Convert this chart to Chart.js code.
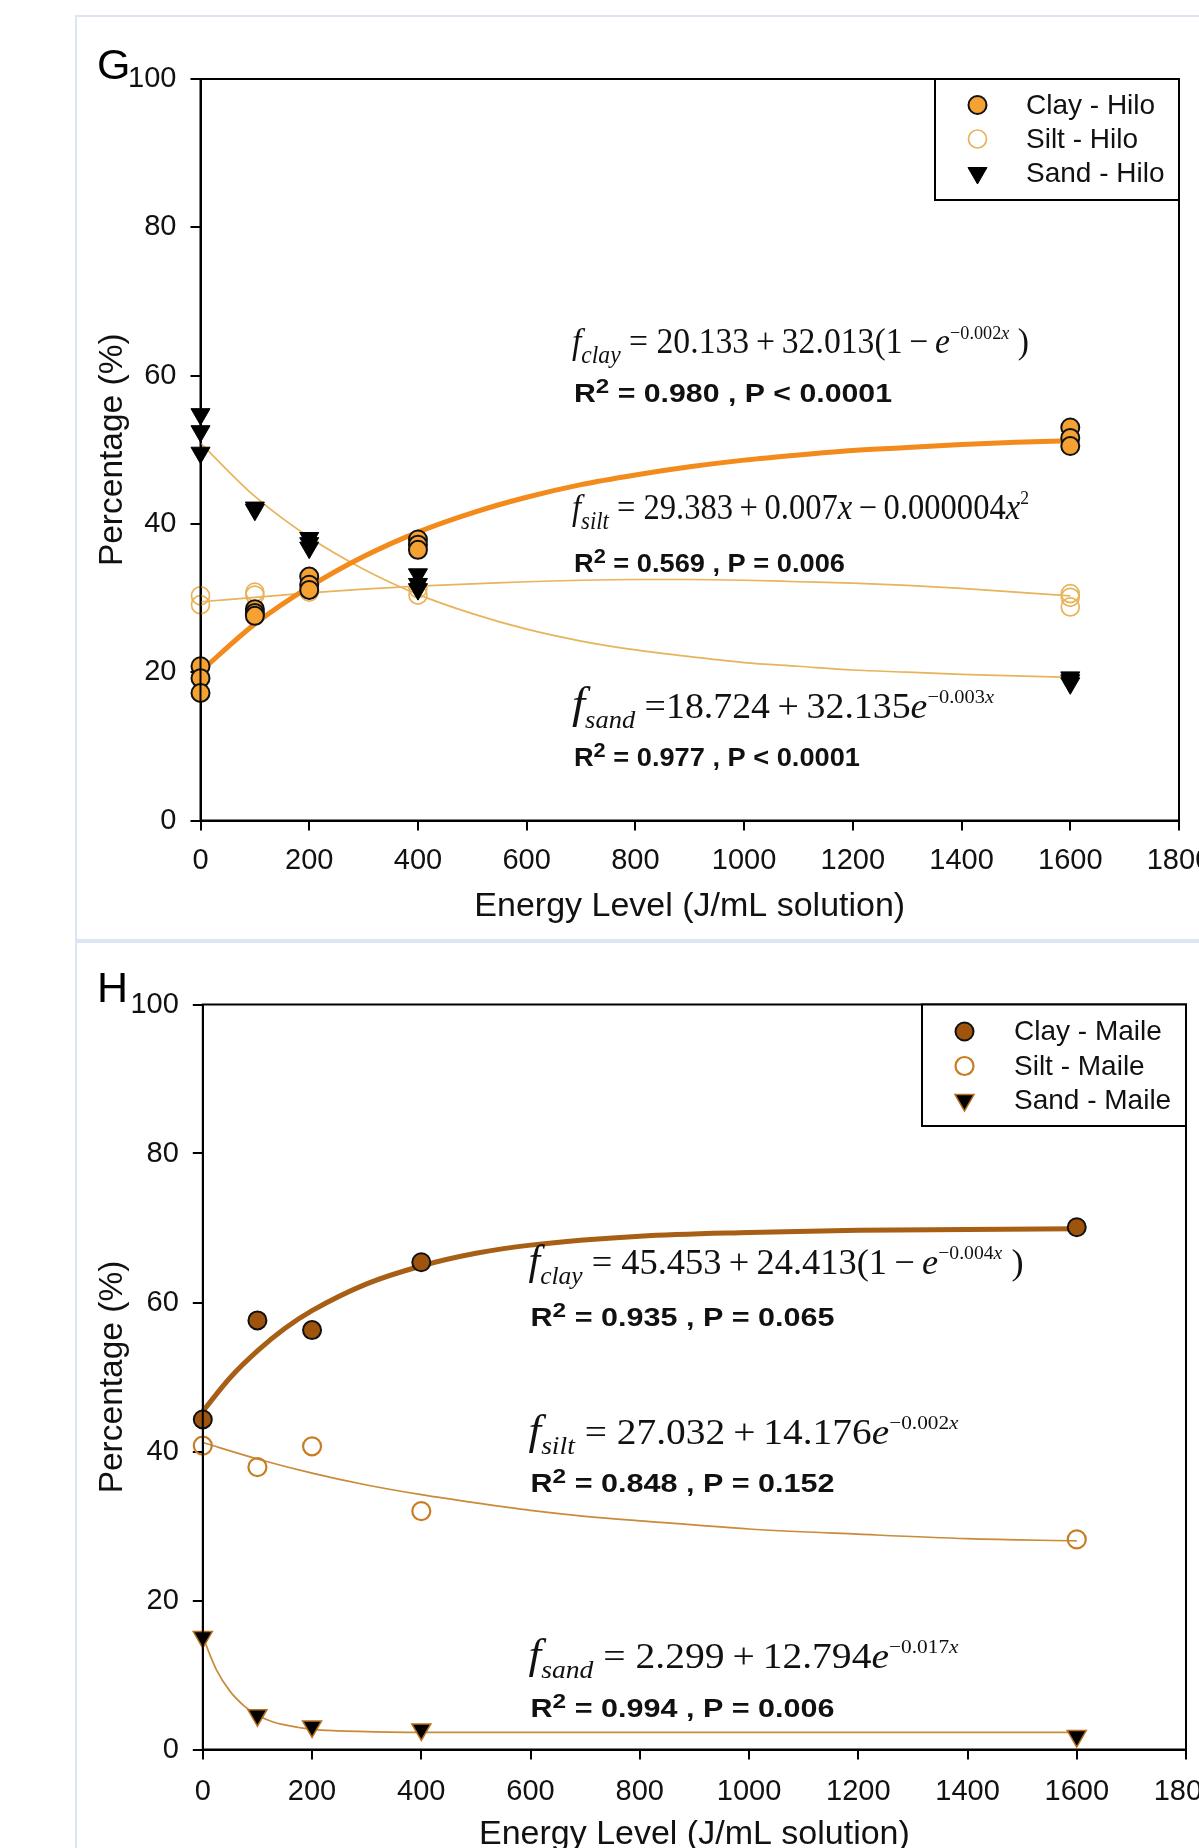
<!DOCTYPE html>
<html><head><meta charset="utf-8">
<script src="https://cdn.jsdelivr.net/npm/chart.js@4.4.1/dist/chart.umd.min.js"></script>
<style>
html,body{margin:0;padding:0;background:#fff;overflow:hidden;width:1199px;height:1848px;}
#wrap{position:relative;width:1199px;height:1848px;overflow:hidden;background:#fff;}
.panel{position:absolute;border:2px solid #dce5f4;box-sizing:border-box;}
canvas{position:absolute;left:0;}
</style></head><body>
<div id="wrap">
<div class="panel" style="left:75px;top:15px;width:1200px;height:926px;"></div>
<div class="panel" style="left:75px;top:941px;width:1200px;height:1000px;"></div>
<canvas id="g" width="1260" height="941" style="top:0px"></canvas>
<canvas id="h" width="1260" height="980" style="top:941px"></canvas>
</div>
<script>
// ---------- tick labels ----------
const xTickValues = [0, 200, 400, 600, 800, 1000, 1200, 1400, 1600, 1800];
const yTickValues = [0, 20, 40, 60, 80, 100];

// ---------- Panel G : Hilo observations ----------
const hiloClayX = [0, 0, 0, 100, 100, 100, 200, 200, 200, 400, 400, 400, 1600, 1600, 1600];
const hiloClayY = [20.8, 19.2, 17.2, 28.5, 28.0, 27.6, 32.9, 31.8, 31.1, 37.9, 37.2, 36.5, 53.0, 51.6, 50.5];
const hiloSiltX = [0, 0, 100, 100, 200, 200, 400, 400, 1600, 1600, 1600];
const hiloSiltY = [30.3, 29.1, 30.8, 30.4, 31.6, 30.8, 31.3, 30.4, 30.6, 30.1, 28.8];
const hiloSandX = [0, 0, 0, 100, 100, 200, 200, 200, 400, 400, 400, 1600, 1600, 1600];
const hiloSandY = [54.8, 52.5, 49.6, 42.2, 41.9, 38.1, 37.4, 36.8, 33.2, 31.9, 31.2, 19.3, 18.9, 18.5];

// Panel G : fitted curves
const hiloFitX = [0, 100, 200, 300, 400, 500, 600, 700, 800, 900, 1000, 1100, 1200, 1300, 1400, 1500, 1600];
const hiloClayFit = [20.1, 26.5, 31.5, 35.6, 38.9, 41.5, 43.6, 45.3, 46.6, 47.7, 48.6, 49.3, 49.9, 50.3, 50.7, 51.0, 51.2];
const hiloSiltFit = [29.5, 30.1, 30.7, 31.2, 31.6, 31.9, 32.2, 32.4, 32.5, 32.5, 32.4, 32.2, 32.0, 31.7, 31.3, 30.8, 30.3];
const hiloSandFit = [50.9, 43.7, 38.2, 33.9, 30.5, 27.9, 25.8, 24.2, 23.0, 22.1, 21.3, 20.8, 20.3, 20.0, 19.7, 19.5, 19.3];

// ---------- Panel H : Maile observations ----------
const maileX = [0, 100, 200, 400, 1600];
const maileClayY = [44.3, 57.6, 56.3, 65.4, 70.1];
const maileSiltY = [40.8, 37.9, 40.7, 32.0, 28.2];
const maileSandY = [15.1, 4.6, 3.1, 2.7, 1.8];

// Panel H : fitted curves
const maileClayFitX = [0, 50, 100, 150, 200, 300, 400, 500, 600, 800, 1000, 1200, 1400, 1600];
const maileClayFit = [45.4, 49.9, 53.5, 56.5, 58.9, 62.5, 64.9, 66.6, 67.7, 68.9, 69.4, 69.7, 69.8, 69.9];
const maileSiltFitX = [0, 100, 200, 300, 400, 500, 600, 700, 800, 1000, 1200, 1400, 1600];
const maileSiltFit = [41.2, 39.0, 37.1, 35.5, 34.2, 33.1, 32.1, 31.3, 30.7, 29.6, 28.9, 28.3, 28.0];
const maileSandFitX = [0, 25, 50, 75, 100, 125, 150, 200, 250, 300, 400, 600, 800, 1000, 1200, 1400, 1600];
const maileSandFit = [15.1, 10.7, 7.8, 5.9, 4.6, 3.8, 3.3, 2.7, 2.5, 2.4, 2.3, 2.3, 2.3, 2.3, 2.3, 2.3, 2.3];

// ---------- labels ----------
const hiloNames = ['Clay - Hilo', 'Silt - Hilo', 'Sand - Hilo'];
const maileNames = ['Clay - Maile', 'Silt - Maile', 'Sand - Maile'];

const SANS = "'Liberation Sans', Arial, Helvetica, sans-serif";
const SERIF = "'Liberation Serif', 'Times New Roman', Times, serif";
Chart.defaults.font.family = SANS;
Chart.defaults.color = '#111';

const pts = (xs, ys) => xs.map((x, i) => ({x: x, y: ys[i]}));

function markerDS(label, xs, ys, st, order) {
  return Object.assign({
    label: label, data: pts(xs, ys), showLine: false, clip: false, order: order,
    pointHoverRadius: 0
  }, st);
}
function fitDS(xs, ys, color, width) {
  return {
    label: '', data: pts(xs, ys), showLine: true, pointRadius: 0, pointHoverRadius: 0,
    borderColor: color, borderWidth: width, cubicInterpolationMode: 'monotone',
    fill: false, clip: false, order: 10, isFit: true
  };
}

// rich text (equations), stretched horizontally to the given width
function partFont(p, size) {
  const m = p.s || 1;
  if (p.k === 'r') return {font: `${size * m}px ${SERIF}`, dy: 0};
  if (p.k === 'i') return {font: `italic ${size * m}px ${SERIF}`, dy: 0};
  if (p.k === 'sub') return {font: `italic ${size * 0.7}px ${SERIF}`, dy: size * 0.28};
  if (p.k === 'sup') return {font: `${size * 0.54}px ${SERIF}`, dy: -size * 0.42};
  if (p.k === 'supi') return {font: `italic ${size * 0.54}px ${SERIF}`, dy: -size * 0.42};
  if (p.k === 'b') return {font: `bold ${size}px ${SANS}`, dy: 0};
  if (p.k === 'bsup') return {font: `bold ${size * 0.8}px ${SANS}`, dy: -size * 0.36};
  return {font: `${size}px ${SANS}`, dy: 0};
}
function drawRich(ctx, parts, x, y, size, targetW) {
  let w = 0;
  for (const p of parts) { ctx.font = partFont(p, size).font; w += ctx.measureText(p.t).width; }
  const sx = targetW ? targetW / w : 1;
  ctx.save();
  ctx.translate(x, y);
  ctx.scale(sx, 1);
  let cx = 0;
  for (const p of parts) {
    const f = partFont(p, size);
    ctx.font = f.font;
    ctx.fillText(p.t, cx, f.dy);
    cx += ctx.measureText(p.t).width;
  }
  ctx.restore();
}

const decorPlugin = {
  id: 'decor',
  afterDatasetsDraw(chart, args, o) {
    const {ctx, chartArea: a} = chart;
    const xs = chart.scales.x, ys = chart.scales.y;
    ctx.save();
    // frame
    ctx.strokeStyle = '#000'; ctx.lineWidth = 2;
    ctx.strokeRect(a.left, a.top, a.right - a.left, a.bottom - a.top);
    // legend
    const L = o.legend;
    const bx = a.right - L.w, by = a.top;
    ctx.fillStyle = '#fff';
    ctx.fillRect(bx, by, L.w, L.h);
    ctx.strokeRect(bx, by, L.w, L.h);
    const marks = chart.data.datasets.filter(d => !d.isFit);
    marks.forEach((d, i) => {
      const yy = by + L.rows[i];
      ctx.save();
      ctx.fillStyle = d.pointBackgroundColor;
      ctx.strokeStyle = d.pointBorderColor;
      ctx.lineWidth = d.pointBorderWidth;
      Chart.helpers.drawPoint(ctx, {pointStyle: d.pointStyle, radius: d.pointRadius,
        rotation: d.pointRotation || 0, borderWidth: d.pointBorderWidth}, bx + L.markerDx, yy);
      ctx.restore();
      ctx.fillStyle = '#111';
      ctx.font = `${L.font}px ${SANS}`;
      ctx.textBaseline = 'middle';
      ctx.textAlign = 'left';
      ctx.fillText(d.label, bx + L.textDx, yy + 1);
    });
    // equations
    ctx.fillStyle = '#111';
    ctx.textBaseline = 'alphabetic';
    ctx.textAlign = 'left';
    for (const an of o.notes) {
      const px = xs.getPixelForValue(an.x);
      drawRich(ctx, an.eq, px - 2, ys.getPixelForValue(an.yEq), an.eqSize, an.eqW);
      drawRich(ctx, an.stat, px, ys.getPixelForValue(an.yStat), an.statSize, an.statW);
    }
    // panel letter
    ctx.font = `${o.letter.size}px ${SANS}`;
    ctx.fillStyle = '#000';
    ctx.fillText(o.letter.text, o.letter.x, o.letter.y);
    ctx.restore();
  }
};

function stat(r2, p) {
  return [{t: 'R', k: 'b'}, {t: '2', k: 'bsup'}, {t: ' = ' + r2 + ' , P ' + p, k: 'b'}];
}

function makeChart(id, c) {
  return new Chart(document.getElementById(id), {
    type: 'scatter',
    data: {datasets: c.datasets},
    options: {
      responsive: false, animation: false, devicePixelRatio: 1,
      events: [],
      layout: {padding: c.padding},
      plugins: {legend: {display: false}, tooltip: {enabled: false}, decor: c.decor},
      scales: {
        x: {
          type: 'linear', min: 0, max: 1800,
          afterBuildTicks: s => { s.ticks = xTickValues.map(v => ({value: v})); },
          afterFit: s => { s.height = c.xHeight; },
          ticks: {font: {size: 29}, color: '#111', padding: c.xTickPad, autoSkip: false, maxRotation: 0,
                  callback: v => String(v)},
          grid: {display: true, drawOnChartArea: false, drawTicks: true, tickLength: 10, color: '#000', lineWidth: 2},
          border: {display: true, color: '#000', width: 2},
          title: {display: true, text: 'Energy Level (J/mL solution)', font: {size: 34}, color: '#111',
                  padding: {top: 0, bottom: c.xTitlePad}}
        },
        y: {
          type: 'linear', min: 0, max: 100,
          afterBuildTicks: s => { s.ticks = yTickValues.map(v => ({value: v})); },
          afterFit: s => { s.width = c.yWidth; },
          ticks: {font: {size: 29}, color: '#111', padding: 14, callback: v => String(v)},
          grid: {display: true, drawOnChartArea: false, drawTicks: true, tickLength: 10, color: '#000', lineWidth: 2},
          border: {display: true, color: '#000', width: 2},
          title: {display: true, text: 'Percentage (%)', font: {size: 33.5}, color: '#111',
                  padding: {top: 0, bottom: 0}}
        }
      }
    },
    plugins: [decorPlugin]
  });
}

// ---------- Panel G ----------
const HILO_ORANGE = '#f28b1c', HILO_FILL = '#f5a233', HILO_PALE = '#e8b35a';
makeChart('g', {
  padding: {left: 93, top: 79, right: 81, bottom: 0},
  yWidth: 107.5, xHeight: 120.5, xTickPad: 13, xTitlePad: 13.5,
  datasets: [
    markerDS(hiloNames[0], hiloClayX, hiloClayY, {pointStyle: 'circle', pointRadius: 9, pointBorderWidth: 2,
      pointBackgroundColor: HILO_FILL, pointBorderColor: '#111'}, 1),
    markerDS(hiloNames[1], hiloSiltX, hiloSiltY, {pointStyle: 'circle', pointRadius: 9, pointBorderWidth: 1.7,
      pointBackgroundColor: 'rgba(0,0,0,0)', pointBorderColor: HILO_PALE}, 3),
    markerDS(hiloNames[2], hiloSandX, hiloSandY, {pointStyle: 'triangle', pointRotation: 180, pointRadius: 11, pointBorderWidth: 1,
      pointBackgroundColor: '#000', pointBorderColor: '#000'}, 2),
    fitDS(hiloFitX, hiloClayFit, HILO_ORANGE, 5),
    fitDS(hiloFitX, hiloSiltFit, HILO_PALE, 1.7),
    fitDS(hiloFitX, hiloSandFit, HILO_PALE, 1.7)
  ],
  decor: {
    legend: {w: 244, h: 121, rows: [26, 60, 94], markerDx: 42.5, textDx: 91, font: 28},
    letter: {text: 'G', x: 97, y: 79, size: 43},
    notes: [
      {x: 687, yEq: 63.0, yStat: 56.4, eqSize: 35, eqW: 457, statSize: 26, statW: 318,
       eq: [{t: 'f', k: 'i'}, {t: 'clay', k: 'sub'}, {t: ' = 20.133\u2009+\u200932.013(1\u2009\u2212\u2009', k: 'r'},
            {t: 'e', k: 'i'}, {t: '\u22120.002', k: 'sup'}, {t: 'x', k: 'supi'}, {t: ' )', k: 'r'}],
       stat: stat('0.980', '< 0.0001')},
      {x: 687, yEq: 40.7, yStat: 33.5, eqSize: 35, eqW: 457, statSize: 26, statW: 271,
       eq: [{t: 'f', k: 'i'}, {t: 'silt', k: 'sub'}, {t: ' = 29.383\u2009+\u20090.007', k: 'r'}, {t: 'x', k: 'i'},
            {t: '\u2009\u2212\u20090.000004', k: 'r'}, {t: 'x', k: 'i'}, {t: '2', k: 'sup'}],
       stat: stat('0.569', '= 0.006')},
      {x: 687, yEq: 13.8, yStat: 7.35, eqSize: 35, eqW: 422, statSize: 26, statW: 286,
       eq: [{t: 'f', k: 'i', s: 1.25}, {t: 'sand', k: 'sub'}, {t: ' =18.724\u2009+\u200932.135', k: 'r'}, {t: 'e', k: 'i'},
            {t: '\u22120.003', k: 'sup'}, {t: 'x', k: 'supi'}],
       stat: stat('0.977', '< 0.0001')}
    ]
  }
});

// ---------- Panel H ----------
const MAILE_BROWN = '#a65f14', MAILE_FILL = '#9e540c', MAILE_LIGHT = '#c98a3a', MAILE_RING = '#c87d22';
makeChart('h', {
  padding: {left: 93, top: 63.5, right: 74, bottom: 0},
  yWidth: 109.8, xHeight: 171.5, xTickPad: 15, xTitlePad: 66,
  datasets: [
    markerDS(maileNames[0], maileX, maileClayY, {pointStyle: 'circle', pointRadius: 9, pointBorderWidth: 2,
      pointBackgroundColor: MAILE_FILL, pointBorderColor: '#111'}, 1),
    markerDS(maileNames[1], maileX, maileSiltY, {pointStyle: 'circle', pointRadius: 9, pointBorderWidth: 2.2,
      pointBackgroundColor: 'rgba(0,0,0,0)', pointBorderColor: MAILE_RING}, 3),
    markerDS(maileNames[2], maileX, maileSandY, {pointStyle: 'triangle', pointRotation: 180, pointRadius: 11, pointBorderWidth: 1.5,
      pointBackgroundColor: '#000', pointBorderColor: '#b8701e'}, 2),
    fitDS(maileClayFitX, maileClayFit, MAILE_BROWN, 5),
    fitDS(maileSiltFitX, maileSiltFit, MAILE_LIGHT, 1.7),
    fitDS(maileSandFitX, maileSandFit, MAILE_LIGHT, 1.7)
  ],
  decor: {
    legend: {w: 264, h: 121.5, rows: [27, 61.5, 95.5], markerDx: 42.5, textDx: 92, font: 28},
    letter: {text: 'H', x: 97, y: 61, size: 43},
    notes: [
      {x: 600, yEq: 63.8, yStat: 56.8, eqSize: 36, eqW: 495, statSize: 26, statW: 304,
       eq: [{t: 'f', k: 'i', s: 1.15}, {t: 'clay', k: 'sub'}, {t: ' = 45.453\u2009+\u200924.413(1\u2009\u2212\u2009', k: 'r'},
            {t: 'e', k: 'i'}, {t: '\u22120.004', k: 'sup'}, {t: 'x', k: 'supi'}, {t: ' )', k: 'r'}],
       stat: stat('0.935', '= 0.065')},
      {x: 600, yEq: 41.0, yStat: 34.5, eqSize: 36, eqW: 430, statSize: 26, statW: 304,
       eq: [{t: 'f', k: 'i', s: 1.15}, {t: 'silt', k: 'sub'}, {t: ' = 27.032\u2009+\u200914.176', k: 'r'}, {t: 'e', k: 'i'},
            {t: '\u22120.002', k: 'sup'}, {t: 'x', k: 'supi'}],
       stat: stat('0.848', '= 0.152')},
      {x: 600, yEq: 10.9, yStat: 4.35, eqSize: 36, eqW: 430, statSize: 26, statW: 304,
       eq: [{t: 'f', k: 'i', s: 1.15}, {t: 'sand', k: 'sub'}, {t: ' = 2.299\u2009+\u200912.794', k: 'r'}, {t: 'e', k: 'i'},
            {t: '\u22120.017', k: 'sup'}, {t: 'x', k: 'supi'}],
       stat: stat('0.994', '= 0.006')}
    ]
  }
});
</script>
</body></html>
